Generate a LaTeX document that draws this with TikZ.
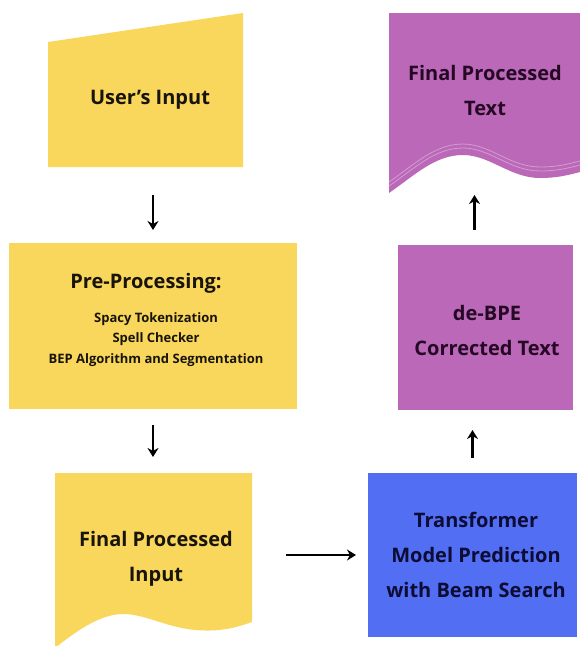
\documentclass[tikz,border=0pt]{standalone}
\usepackage{fontspec}
\setmainfont{Open Sans}
\usetikzlibrary{arrows.meta,calc}

\definecolor{boxyellow}{RGB}{249,214,92}
\definecolor{boxpurple}{RGB}{187,104,184}
\definecolor{boxblue}{RGB}{82,110,243}
\definecolor{inkyellow}{RGB}{24,20,10}
\definecolor{inkpurple}{RGB}{36,8,36}
\definecolor{inkblue}{RGB}{12,12,52}

\tikzset{
  frame/.style={inner sep=0pt, outer sep=0pt},
  label/.style={font=\bfseries\fontsize{20}{35}\selectfont, align=center, inner sep=0pt},
  small/.style={font=\bfseries\fontsize{13}{20.5}\selectfont, align=center, inner sep=0pt},
  arr/.style={draw=black, line width=2.6pt, -{Stealth[length=9pt,width=11pt]}},
}

\begin{document}
\begin{tikzpicture}[x=1pt,y=-1pt]
\useasboundingbox (0,0) rectangle (580,646);
\clip (0,0) rectangle (580,646);

% frames of the six steps
\node[frame, minimum width=195pt, minimum height=154pt] (ui)  at (145.5,90) {};
\node[frame, minimum width=288pt, minimum height=166pt] (pre) at (153,326) {};
\node[frame, minimum width=197pt, minimum height=173pt] (fpi) at (153.5,559.5) {};
\node[frame, minimum width=209pt, minimum height=164pt] (tr)  at (472.5,555) {};
\node[frame, minimum width=175pt, minimum height=165pt] (bpe) at (485.5,327.5) {};
\node[frame, minimum width=192pt, minimum height=180pt] (fpt) at (484,103) {};

% manual input
\fill[boxyellow] (ui.south west) -- (ui.south east) -- (ui.north east)
  -- ([yshift=-29pt]ui.north west) -- cycle;

% process boxes
\fill[boxyellow] (pre.south west) rectangle (pre.north east);
\fill[boxblue] (tr.south west) rectangle (tr.north east);
\fill[boxpurple] (bpe.south west) rectangle (bpe.north east);

% document with wavy bottom
\fill[boxyellow] (55,646) -- (55,473) -- (252,473) -- (252,622)
  .. controls (235,628) and (220,632) .. (195,630)
  .. controls (165,627) and (145,614) .. (123,614)
  .. controls (100,614) and (75,632) .. (55,648) -- cycle;

% output document with wavy bottom and faint page edges
\def\fptwave{(580,172) .. controls (565,176) and (555,178) .. (540,178)
  .. controls (510,178) and (490,155) .. (463,155)
  .. controls (435,155) and (415,175) .. (389,193)}
\begin{scope}
  \path[clip] (389,13) -- (580,13) -- \fptwave -- cycle;
  \fill[boxpurple] (380,0) rectangle (580,200);
  \draw[white, opacity=0.35, line width=0.8pt, yshift=7pt] \fptwave;
  \draw[white, opacity=0.35, line width=0.8pt, yshift=11pt] \fptwave;
\end{scope}

% texts
\node[label, text=inkyellow] (tui) at (150,100) {User\char"0027 s Input};
\node[label, text=inkyellow] (tpre) at (146,283) {Pre-Processing:};
\node[small, text=inkyellow, anchor=north] (tpre2) at (156,312)
  {Spacy Tokenization\\Spell Checker\\BEP Algorithm and Segmentation};
\node[label, text=inkyellow] (tfpi) at (156,559) {Final Processed\\Input};
\node[label, text=inkblue] (ttr) at (476,555) {Transformer\\Model Prediction\\with Beam Search};
\node[label, text=inkpurple] (tbpe) at (487,330) {de-BPE\\Corrected Text};
\node[label, text=inkpurple] (tfpt) at (485,90) {Final Processed\\Text};

% connectors
\draw[arr, shorten <=28pt, shorten >=13pt] (pre.north |- ui.south) -- (pre.north);
\draw[arr, shorten <=16pt, shorten >=16pt] (pre.south) -- (pre.south |- fpi.north);
\draw[arr, shorten <=34pt, shorten >=12pt] (fpi.east |- tr.west) -- (tr.west);
\draw[arr, shorten <=15pt, shorten >=20pt] (tr.north) -- (tr.north |- bpe.south);
\draw[arr, shorten <=15pt, shorten >=2pt] ([xshift=2pt]tr.north |- bpe.north) -- ([xshift=2pt]tr.north |- fpt.south);
\end{tikzpicture}
\end{document}
